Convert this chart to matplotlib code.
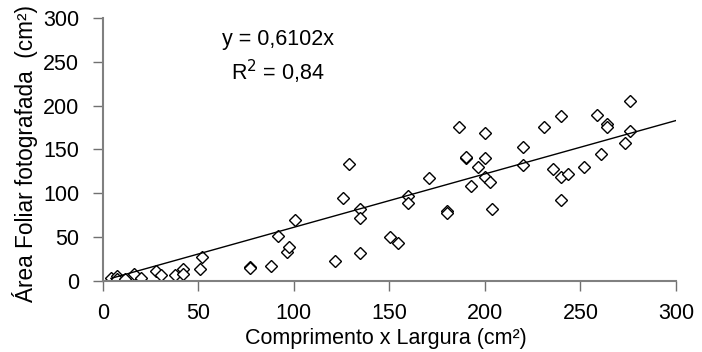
import numpy as np
import matplotlib
matplotlib.use("Agg")
import matplotlib.pyplot as plt

plt.rcParams['font.family'] = ['Liberation Sans', 'DejaVu Sans']

# comprimento x largura (cm2)
cxl = [4.3, 7.3, 7.6, 11.8, 16.4, 20.2, 28.0, 30.5, 37.8, 41.9, 42.2, 50.9, 51.8,
       77.1, 77.1, 88.1, 91.9, 96.3, 97.6, 100.6, 121.6, 125.9, 128.9,
       134.6, 134.6, 134.6, 150.3, 154.7, 159.9, 159.9, 170.9, 180.0, 180.0,
       186.4, 190.0, 190.0, 192.6, 196.4, 200.0, 200.0, 200.0, 202.8, 203.6,
       220.1, 220.1, 230.9, 235.5, 239.8, 239.8, 239.8, 243.6, 251.7, 258.5,
       260.6, 263.7, 263.7, 273.3, 275.9, 275.9]
# area foliar fotografada (cm2)
area = [2.7, 5.4, 1.6, 1.6, 7.7, 3.1, 11.4, 6.2, 6.2, 13.0, 7.7, 13.0, 27.1,
        15.3, 14.0, 16.4, 51.4, 33.2, 38.9, 69.4, 22.5, 94.9, 133.7,
        82.3, 72.0, 32.0, 49.9, 43.0, 96.5, 88.5, 117.4, 80.0, 77.7,
        175.7, 139.9, 141.5, 108.2, 130.3, 168.8, 139.9, 118.9, 112.8, 82.3,
        152.8, 131.9, 175.7, 127.3, 188.2, 118.9, 91.9, 121.9, 130.3, 189.7,
        144.8, 178.7, 176.0, 157.7, 205.7, 171.1]

slope = 0.6102
r2 = '0,84'
xmax, ymax = 300, 300
fs = 15.5

fig = plt.figure(figsize=(7.02, 3.52), dpi=100)
# axes box: x 102.7..676 px, y 18.2..280.7 px
ax = fig.add_axes([102.7 / 702, 1 - 280.7 / 352, 573.3 / 702, 262.5 / 352])

ax.plot(cxl, area, linestyle='none', marker='D', markersize=6,
        markerfacecolor='white', markeredgecolor='black', markeredgewidth=1.0)

xs = np.array([min(cxl), xmax])
ax.plot(xs, slope * xs, color='black', linewidth=1.0)

ax.set_xlim(0, xmax)
ax.set_ylim(0, ymax)
ax.set_xticks(np.arange(0, 301, 50))
ax.set_yticks(np.arange(0, 301, 50))

for s in ['top', 'right']:
    ax.spines[s].set_visible(False)
for s in ['left', 'bottom']:
    ax.spines[s].set_color('#808080')
    ax.spines[s].set_linewidth(1.5)

ax.tick_params(axis='both', colors='#707070', labelcolor='black',
               labelsize=fs, width=1.0, length=7, direction='out')
ax.tick_params(axis='x', pad=9)
ax.tick_params(axis='y', pad=10)

ax.set_xlabel('Comprimento x Largura (cm²)', fontsize=fs)
ax.set_ylabel('Área Foliar fotografada  (cm²)', fontsize=16.3)
ax.xaxis.set_label_coords(0.494, -0.18)
ax.yaxis.set_label_coords(-0.112, 0.483)

ax.text(0.306, 0.917, 'y = 0,6102x', transform=ax.transAxes, ha='center',
        va='center', fontsize=fs)
ax.text(0.306, 0.796, r'R$^2$ = ' + r2, transform=ax.transAxes, ha='center',
        va='center', fontsize=fs)

fig.savefig('out.png', dpi=100)
